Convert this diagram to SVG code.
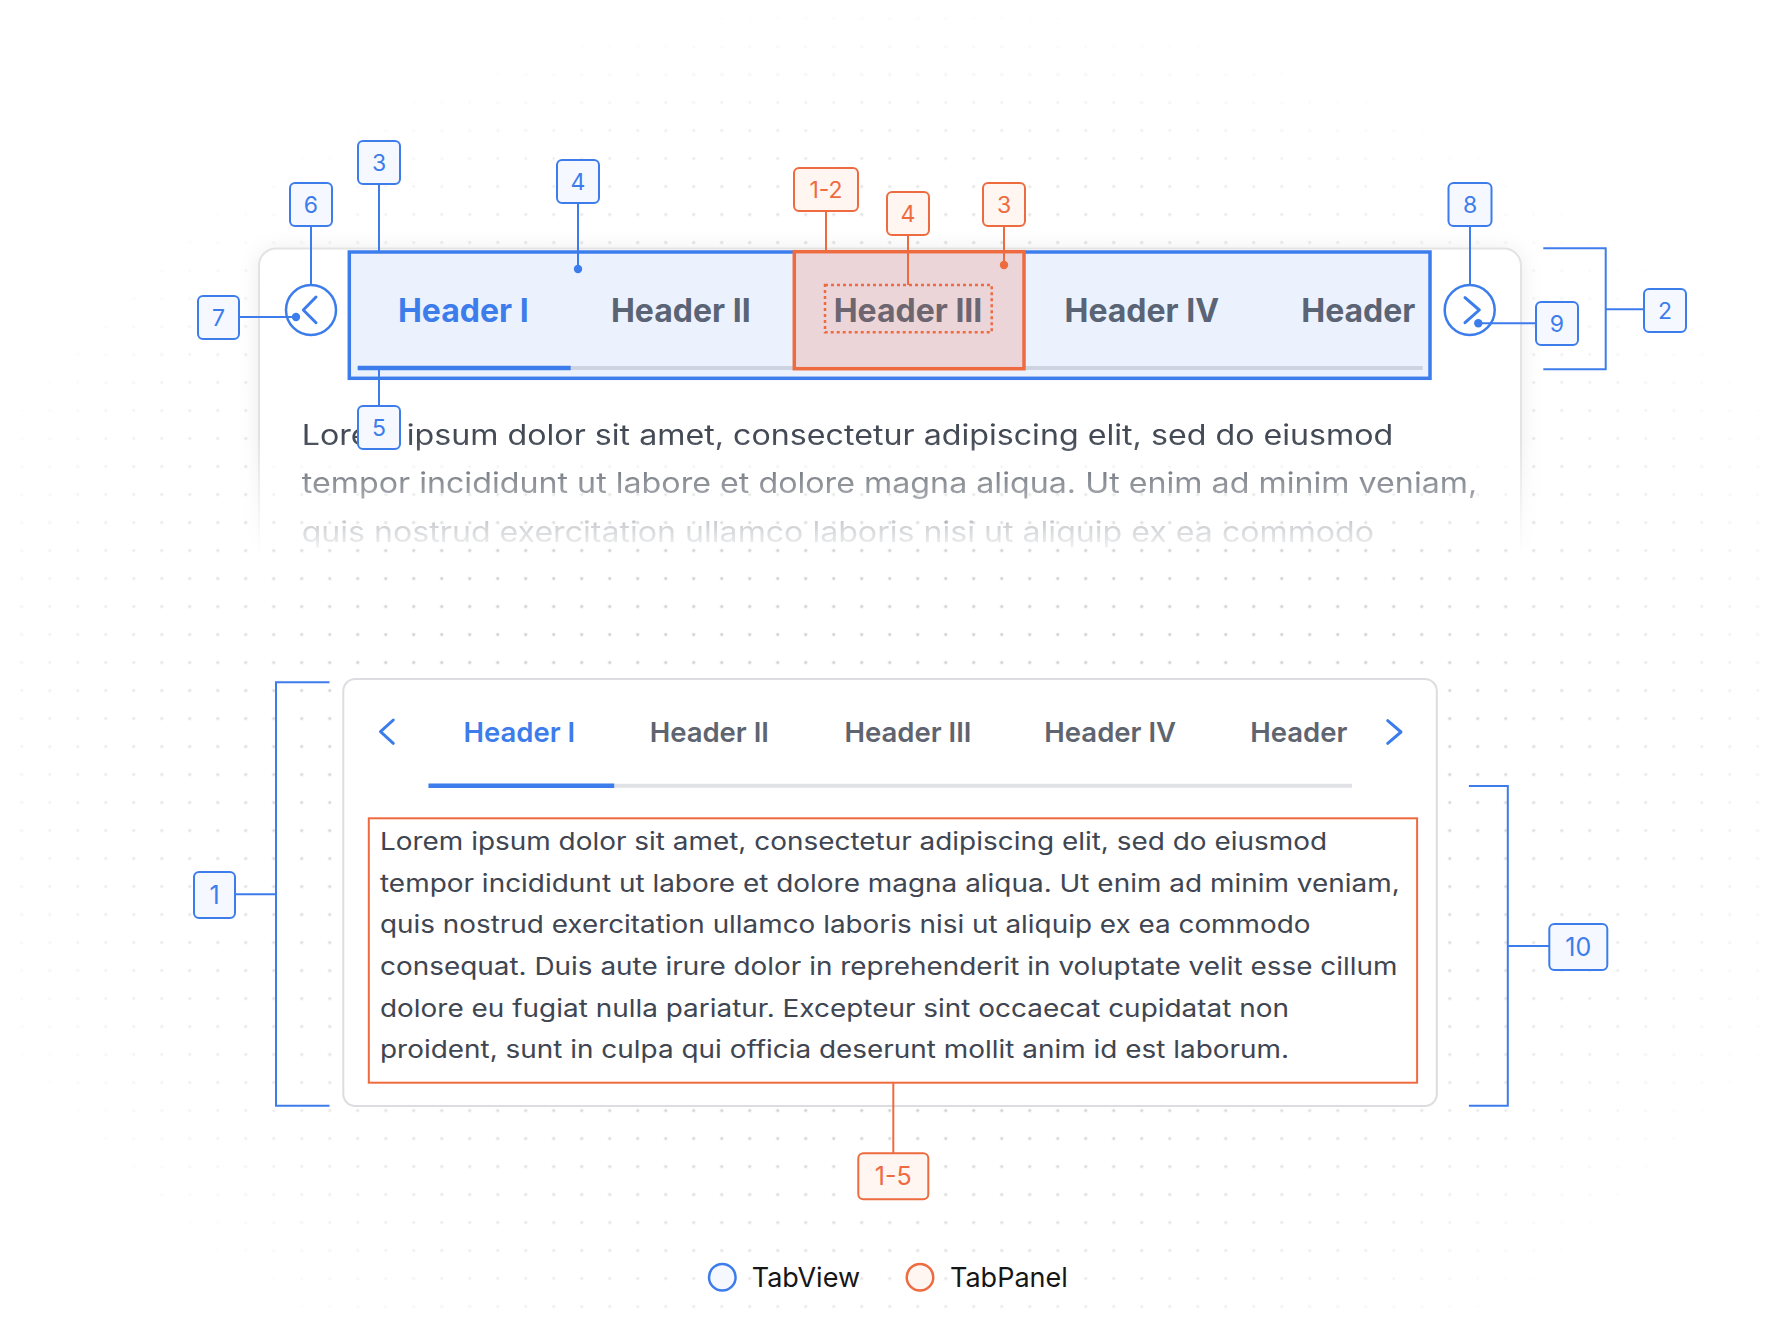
<svg xmlns="http://www.w3.org/2000/svg" width="1780" height="1330" viewBox="0 0 1780 1330">
<defs>
<style>
.lb{fill:#F5F8FF;stroke:#3D7DEB;stroke-width:2}
.lo{fill:#FFF6F2;stroke:#EE6B3F;stroke-width:2}
.tb{font-family:Inter,"Noto Sans",sans-serif;font-size:23px;fill:#3D7DEB;text-anchor:middle}
.to{font-family:Inter,"Noto Sans",sans-serif;font-size:23px;fill:#EE6B3F;text-anchor:middle}
.tb2{font-family:Inter,"Noto Sans",sans-serif;font-size:25px;fill:#3D7DEB;text-anchor:middle}
.to2{font-family:Inter,"Noto Sans",sans-serif;font-size:25px;fill:#EE6B3F;text-anchor:middle}
.cb{stroke:#3D7DEB;stroke-width:2;fill:none}
.co{stroke:#EE6B3F;stroke-width:2;fill:none}
.hd{font-family:Inter,"Noto Sans",sans-serif;font-weight:700;font-size:32px;text-anchor:middle;fill:#5A6475}
.hd2{font-family:Inter,"Noto Sans",sans-serif;font-weight:600;font-size:27.5px;text-anchor:middle;fill:#5E6470}
.body{font-family:Inter,"Noto Sans",sans-serif;font-size:28px;fill:#434A55}
.body2{font-family:Inter,"Noto Sans",sans-serif;font-size:24.5px;fill:#3F4652}
.chev{fill:none;stroke:#3D7DEB;stroke-width:3;stroke-linecap:round;stroke-linejoin:round}
.leg{font-family:Inter,"Noto Sans",sans-serif;font-size:27px;fill:#161616}
</style>
<pattern id="dots" width="28" height="28" patternUnits="userSpaceOnUse" x="7.7" y="4.5">
<circle cx="14" cy="14" r="1.6" fill="#CDCDCD"/>
</pattern>
<radialGradient id="vg" cx="0.5" cy="0.55" r="0.56">
<stop offset="0.5" stop-color="#fff"/>
<stop offset="1" stop-color="#000"/>
</radialGradient>
<mask id="vm" maskUnits="userSpaceOnUse" x="0" y="0" width="1780" height="1330">
<rect x="0" y="0" width="1780" height="1330" fill="url(#vg)"/>
</mask>
<linearGradient id="fg" x1="0" y1="240" x2="0" y2="570" gradientUnits="userSpaceOnUse">
<stop offset="0.6" stop-color="#fff"/>
<stop offset="0.78" stop-color="#7a7a7a"/>
<stop offset="0.96" stop-color="#000"/>
</linearGradient>
<mask id="fm" maskUnits="userSpaceOnUse" x="0" y="0" width="1780" height="1330">
<rect x="0" y="0" width="1780" height="1330" fill="url(#fg)"/>
</mask>
<filter id="sh" x="-5%" y="-20%" width="110%" height="150%">
<feDropShadow dx="0" dy="2" stdDeviation="10" flood-color="#000" flood-opacity="0.08"/>
</filter>
</defs>

<rect x="0" y="0" width="1780" height="1330" fill="#fff"/>
<rect x="0" y="0" width="1780" height="1330" fill="url(#dots)" mask="url(#vm)"/>

<g id="preview-card" mask="url(#fm)">
<rect x="259" y="248.5" width="1262" height="400" rx="17" fill="#fff" stroke="#E3E3E3" stroke-width="2" filter="url(#sh)"/>
<text class="body" x="301.7" y="445" textLength="1091.6" lengthAdjust="spacingAndGlyphs">Lorem ipsum dolor sit amet, consectetur adipiscing elit, sed do eiusmod</text>
<text class="body" x="301.7" y="493.3" textLength="1175.6" lengthAdjust="spacingAndGlyphs">tempor incididunt ut labore et dolore magna aliqua. Ut enim ad minim veniam,</text>
<text class="body" x="301.7" y="541.7" textLength="1072.3" lengthAdjust="spacingAndGlyphs">quis nostrud exercitation ullamco laboris nisi ut aliquip ex ea commodo</text>
</g>

<g id="tablist-top">
<rect x="349.3" y="252" width="1080.7" height="126.3" fill="#EBF2FE" stroke="#3D7DEB" stroke-width="3.5"/>
<line x1="357.7" y1="368" x2="1422.7" y2="368" stroke="#CCD4E2" stroke-width="4"/>
<line x1="357.7" y1="368" x2="570.7" y2="368" stroke="#3D7DEB" stroke-width="4.5"/>
<text class="hd" x="463.3" y="322.3" style="fill:#3D7DEB">Header I</text>
<text class="hd" x="680.8" y="322.3">Header II</text>
<text class="hd" x="1141.8" y="322.3">Header IV</text>
<text class="hd" x="1358.3" y="322.3">Header</text>
</g>

<g id="tab-active-top">
<rect x="794.3" y="251.7" width="229.7" height="117" fill="#EBD5D9" stroke="#EE6B3F" stroke-width="3.5"/>
<rect x="825" y="285" width="166.7" height="47.3" fill="none" stroke="#EE6B3F" stroke-width="2.5" stroke-dasharray="3 3"/>
<text class="hd" x="908" y="322.3" style="fill:#6D6670">Header III</text>
</g>

<g id="prev-button-top">
<circle cx="311" cy="310" r="25" fill="#fff" stroke="#3D7DEB" stroke-width="2.5"/>
<polyline class="chev" points="316,297 303.3,310 316,322.7"/>
</g>

<g id="next-button-top">
<circle cx="1469.7" cy="310" r="25" fill="#fff" stroke="#3D7DEB" stroke-width="2.5"/>
<polyline class="chev" points="1465,297.7 1479.3,310 1465,322.7"/>
</g>

<g id="tabview-bottom">
<rect x="343.3" y="679" width="1093.5" height="427" rx="12" fill="#fff" stroke="#DCDDE0" stroke-width="2"/>
<polyline class="chev" points="393.3,720 380.5,731.7 393.3,743.3"/>
<polyline class="chev" points="1387.7,720.7 1401,732 1387.7,743.3"/>
<line x1="428.5" y1="785.7" x2="1352" y2="785.7" stroke="#E1E2E6" stroke-width="4"/>
<line x1="428.5" y1="785.7" x2="614.2" y2="785.7" stroke="#3D7DEB" stroke-width="4.5"/>
<text class="hd2" x="519.3" y="742.3" style="fill:#3D7DEB">Header I</text>
<text class="hd2" x="709.3" y="742.3">Header II</text>
<text class="hd2" x="908" y="742.3">Header III</text>
<text class="hd2" x="1110.2" y="742.3">Header IV</text>
<text class="hd2" x="1298.8" y="742.3">Header</text>
</g>

<g id="tabpanel-bottom">
<rect x="368.8" y="818.3" width="1048.3" height="264.4" fill="#fff" stroke="#EE6B3F" stroke-width="2"/>
<text class="body2" x="380" y="850" textLength="947" lengthAdjust="spacingAndGlyphs">Lorem ipsum dolor sit amet, consectetur adipiscing elit, sed do eiusmod</text>
<text class="body2" x="380" y="891.7" textLength="1019.7" lengthAdjust="spacingAndGlyphs">tempor incididunt ut labore et dolore magna aliqua. Ut enim ad minim veniam,</text>
<text class="body2" x="380" y="933.3" textLength="930.4" lengthAdjust="spacingAndGlyphs">quis nostrud exercitation ullamco laboris nisi ut aliquip ex ea commodo</text>
<text class="body2" x="380" y="975" textLength="1017.5" lengthAdjust="spacingAndGlyphs">consequat. Duis aute irure dolor in reprehenderit in voluptate velit esse cillum</text>
<text class="body2" x="380" y="1016.7" textLength="909" lengthAdjust="spacingAndGlyphs">dolore eu fugiat nulla pariatur. Excepteur sint occaecat cupidatat non</text>
<text class="body2" x="380" y="1058.3" textLength="909" lengthAdjust="spacingAndGlyphs">proident, sunt in culpa qui officia deserunt mollit anim id est laborum.</text>
</g>

<g id="connectors">
<line class="cb" x1="379" y1="184" x2="379" y2="252"/>
<line class="cb" x1="578" y1="203" x2="578" y2="269"/>
<circle cx="578" cy="269" r="4.2" fill="#3D7DEB"/>
<line class="cb" x1="311" y1="226" x2="311" y2="285"/>
<line class="cb" x1="239" y1="317" x2="296" y2="317"/>
<circle cx="296" cy="317" r="4.2" fill="#3D7DEB"/>
<line class="cb" x1="379" y1="368" x2="379" y2="406"/>
<line class="co" x1="826" y1="211" x2="826" y2="252"/>
<line class="co" x1="908" y1="235" x2="908" y2="285"/>
<line class="co" x1="1004" y1="226" x2="1004" y2="265"/>
<circle cx="1004" cy="265" r="4.2" fill="#EE6B3F"/>
<line class="cb" x1="1470" y1="226" x2="1470" y2="285"/>
<line class="cb" x1="1478.3" y1="323.3" x2="1536" y2="323.3"/>
<circle cx="1478.3" cy="323.3" r="4.2" fill="#3D7DEB"/>
<polyline class="cb" points="1543.3,248.3 1605.7,248.3 1605.7,369.3 1543.3,369.3"/>
<line class="cb" x1="1605.7" y1="309.3" x2="1644" y2="309.3"/>
<polyline class="cb" points="329.5,682.3 276,682.3 276,1105.7 329.5,1105.7"/>
<line class="cb" x1="235" y1="894.3" x2="276" y2="894.3"/>
<polyline class="cb" points="1468.9,786 1507.8,786 1507.8,1105.7 1468.9,1105.7"/>
<line class="cb" x1="1507.8" y1="946" x2="1549.3" y2="946"/>
<line class="co" x1="893.3" y1="1082.7" x2="893.3" y2="1153.3"/>
</g>

<g id="label-3"><rect class="lb" x="358" y="141" width="42" height="43" rx="5"/><text class="tb" x="379" y="170.8">3</text></g>
<g id="label-4"><rect class="lb" x="557" y="160" width="42" height="43" rx="5"/><text class="tb" x="578" y="189.8">4</text></g>
<g id="label-6"><rect class="lb" x="290" y="183" width="42" height="43" rx="5"/><text class="tb" x="311" y="212.8">6</text></g>
<g id="label-7"><rect class="lb" x="198" y="296" width="41" height="43" rx="5"/><text class="tb" x="218.5" y="325.8">7</text></g>
<g id="label-5"><rect class="lb" x="358" y="406" width="42" height="43" rx="5"/><text class="tb" x="379" y="435.8">5</text></g>
<g id="label-1-2"><rect class="lo" x="794" y="168" width="64" height="43" rx="5"/><text class="to" x="826" y="197.8">1-2</text></g>
<g id="label-4-panel"><rect class="lo" x="887" y="192" width="42" height="43" rx="5"/><text class="to" x="908" y="221.8">4</text></g>
<g id="label-3-panel"><rect class="lo" x="983" y="183" width="42" height="43" rx="5"/><text class="to" x="1004" y="212.8">3</text></g>
<g id="label-8"><rect class="lb" x="1448.5" y="183" width="43" height="43" rx="5"/><text class="tb" x="1470" y="212.8">8</text></g>
<g id="label-9"><rect class="lb" x="1536" y="302" width="42" height="43" rx="5"/><text class="tb" x="1557" y="331.8">9</text></g>
<g id="label-2"><rect class="lb" x="1644" y="289" width="42" height="43" rx="5"/><text class="tb" x="1665" y="318.8">2</text></g>
<g id="label-1"><rect class="lb" x="194" y="872" width="41" height="46" rx="5"/><text class="tb2" x="214.5" y="904">1</text></g>
<g id="label-10"><rect class="lb" x="1549.3" y="924" width="58" height="46" rx="5"/><text class="tb2" x="1578.3" y="956">10</text></g>
<g id="label-1-5"><rect class="lo" x="858.3" y="1153.3" width="70" height="46" rx="5"/><text class="to2" x="893.3" y="1185.3">1-5</text></g>

<g id="legend">
<circle cx="722.3" cy="1277.3" r="13.3" fill="#F5F8FF" stroke="#3D7DEB" stroke-width="2.5"/>
<text class="leg" x="751.7" y="1286.7">TabView</text>
<circle cx="920" cy="1277.3" r="13.3" fill="#FFF6F2" stroke="#EE6B3F" stroke-width="2.5"/>
<text class="leg" x="950" y="1286.7">TabPanel</text>
</g>
</svg>
